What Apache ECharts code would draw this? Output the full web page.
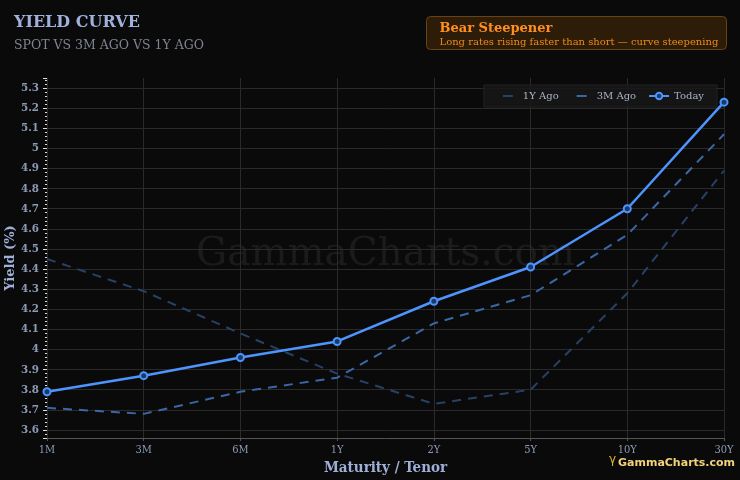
<!DOCTYPE html>
<html>
<head>
<meta charset="utf-8">
<script src="https://cdn.jsdelivr.net/npm/echarts@6/dist/echarts.min.js"></script>
<style>
  html, body { margin: 0; padding: 0; background: #0a0a0a; }
  #chart { width: 740px; height: 480px; }
</style>
</head>
<body>
<div id="chart"></div>
<script>
var tenors = ['1M', '3M', '6M', '1Y', '2Y', '5Y', '10Y', '30Y'];
var yearAgo = [4.45, 4.29, 4.08, 3.88, 3.73, 3.80, 4.28, 4.89];
var threeMonthsAgo = [3.71, 3.68, 3.79, 3.86, 4.13, 4.27, 4.57, 5.07];
var today = [3.79, 3.87, 3.96, 4.04, 4.24, 4.41, 4.70, 5.23];
var yMin = 3.56, yMax = 5.35;

var serif = '"DejaVu Serif", serif';
var cond = '"DejaVu Serif Condensed", "DejaVu Serif", serif';

var chart = echarts.init(document.getElementById('chart'));

// short centred dash for the dashed series in the legend
var legendDash = { type: [10, 20], dashOffset: 25, width: 2 };

var option = {
    backgroundColor: '#0a0a0a',
    animation: false,
    title: [{
        text: 'YIELD CURVE',
        subtext: 'SPOT VS 3M AGO VS 1Y AGO',
        left: 9,
        top: 10,
        itemGap: 8,
        textStyle: { color: '#a0b2dc', fontFamily: serif, fontWeight: 'bold', fontSize: 16 },
        subtextStyle: { color: '#7f8491', fontFamily: serif, fontSize: 12.5 }
    }],
    legend: {
        top: 85,
        right: 23,
        itemWidth: 20,
        itemHeight: 8,
        itemGap: 12,
        padding: [6, 13, 6, 13],
        backgroundColor: 'rgba(24,24,24,0.85)',
        borderColor: '#222',
        borderWidth: 1,
        textStyle: { color: '#a9b3c7', fontFamily: serif, fontSize: 10 },
        data: [
            { name: '1Y Ago', lineStyle: legendDash, itemStyle: { opacity: 0 } },
            { name: '3M Ago', lineStyle: legendDash, itemStyle: { opacity: 0 } },
            { name: 'Today' }
        ]
    },
    grid: { left: 47, right: 16, top: 78, bottom: 42, containLabel: false, outerBoundsMode: 'none' },
    xAxis: {
        type: 'category',
        data: tenors,
        boundaryGap: false,
        name: 'Maturity / Tenor',
        nameLocation: 'middle',
        nameGap: 22,
        nameTextStyle: { color: '#9fb0d8', fontFamily: cond, fontWeight: 'bold', fontSize: 15 },
        axisLine: { lineStyle: { color: '#555' } },
        axisTick: { show: true, length: 3, lineStyle: { color: '#555' } },
        axisLabel: { color: '#8c9bb5', fontFamily: cond, fontSize: 11, margin: 7 },
        splitLine: { show: true, lineStyle: { color: '#2a2a2a', width: 1 } }
    },
    yAxis: {
        type: 'value',
        min: yMin,
        max: yMax,
        splitNumber: 18,
        name: 'Yield (%)',
        nameLocation: 'middle',
        nameGap: 30,
        nameMoveOverlap: false,
        nameTextStyle: { color: '#9fb0d8', fontFamily: serif, fontWeight: 'bold', fontSize: 13 },
        axisLine: { show: false },
        axisTick: { show: true, length: 4, lineStyle: { color: '#ddd' } },
        minorTick: { show: true, splitNumber: 5, length: 2, lineStyle: { color: '#ddd' } },
        axisLabel: { color: '#8c9bb5', fontFamily: cond, fontWeight: 'bold', fontSize: 11.5, margin: 8,
                     showMinLabel: false, showMaxLabel: false },
        splitLine: { show: true, showMinLine: false, showMaxLine: false, lineStyle: { color: '#2a2a2a', width: 1 } }
    },
    graphic: [
        {
            type: 'text',
            x: 385.5,
            y: 255,
            z: 0,
            silent: true,
            style: { text: 'GammaCharts.com', fill: 'rgba(255,255,255,0.07)', font: '39px "DejaVu Serif", serif',
                     align: 'center', verticalAlign: 'middle' }
        },
        {
            type: 'group',
            left: 426,
            top: 16,
            children: [
                {
                    type: 'rect',
                    shape: { x: 0, y: 0, width: 300, height: 33, r: 4 },
                    style: { fill: '#2d1c07', stroke: '#6a4312', lineWidth: 1 }
                },
                {
                    type: 'text',
                    x: 13, y: 6,
                    style: { text: 'Bear Steepener', fill: '#ff9020', font: 'bold 13px "DejaVu Serif", serif' }
                },
                {
                    type: 'text',
                    x: 13, y: 21,
                    style: { text: 'Long rates rising faster than short \u2014 curve steepening', fill: '#f08a1a', font: '10px "DejaVu Serif", serif' }
                }
            ]
        },
        {
            type: 'text',
            x: 609,
            y: 454,
            style: { text: '\u03b3', fill: '#e0b030', font: '12px "DejaVu Sans", sans-serif' }
        },
        {
            type: 'text',
            x: 618,
            y: 458,
            style: { text: 'GammaCharts.com', fill: '#f2d27a', font: 'bold 11px "DejaVu Sans", sans-serif' }
        }
    ],
    series: [
        {
            name: '1Y Ago',
            type: 'line',
            data: yearAgo,
            symbol: 'none',
            lineStyle: { color: '#274266', width: 2, type: [9, 7] },
            itemStyle: { color: '#274266' },
            z: 2
        },
        {
            name: '3M Ago',
            type: 'line',
            data: threeMonthsAgo,
            symbol: 'none',
            lineStyle: { color: '#3a68a6', width: 2, type: [9, 7] },
            itemStyle: { color: '#3a68a6' },
            z: 3
        },
        {
            name: 'Today',
            type: 'line',
            data: today,
            symbol: 'circle',
            symbolSize: 7,
            lineStyle: { color: '#4d94ff', width: 2.5 },
            itemStyle: { color: '#1b3a66', borderColor: '#4d94ff', borderWidth: 2 },
            z: 4
        }
    ]
};

chart.setOption(option);
</script>
</body>
</html>
